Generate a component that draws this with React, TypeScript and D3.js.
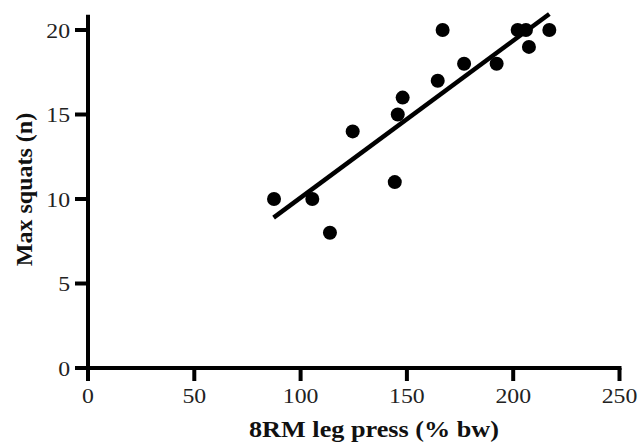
import React, { useEffect, useRef } from "react";
import * as d3 from "d3";

// 8RM leg press (% bw) vs max squats (n)
const legPress = [87.5, 105.5, 113.8, 124.5, 144.3, 145.7, 148, 164.5, 166.8, 176.9, 192.2, 202.1, 206, 207.4, 217];
const maxSquats = [10, 10, 8, 14, 11, 15, 16, 17, 20, 18, 18, 20, 20, 19, 20];

// regression line
const fitX = [87.3, 217];
const fitY = [8.9, 20.95];

const xTicks = [0, 50, 100, 150, 200, 250];
const yTicks = [0, 5, 10, 15, 20];

const W = 640;
const H = 443;
const FONT = "'Liberation Serif', 'Times New Roman', serif";

export default function App() {
  const svgRef = useRef<SVGSVGElement>(null);

  useEffect(() => {
    const svg = d3.select(svgRef.current);
    svg.selectAll("*").remove();

    const x = d3.scaleLinear().domain([0, 250]).range([88, 619.5]);
    const y = d3.scaleLinear().domain([0, 20]).range([368, 30]);
    const yTop = 20.9;
    const stroke = 4;

    // axes lines
    svg.append("line")
      .attr("x1", x(0)).attr("x2", x(0))
      .attr("y1", y(yTop)).attr("y2", y(0) + stroke / 2)
      .attr("stroke", "#000").attr("stroke-width", stroke);
    svg.append("line")
      .attr("x1", x(0) - stroke / 2).attr("x2", x(250) + stroke / 2)
      .attr("y1", y(0)).attr("y2", y(0))
      .attr("stroke", "#000").attr("stroke-width", stroke);

    // x ticks
    const xt = svg.append("g");
    xt.selectAll("line").data(xTicks).join("line")
      .attr("x1", (d) => x(d)).attr("x2", (d) => x(d))
      .attr("y1", y(0)).attr("y2", y(0) + 13)
      .attr("stroke", "#000").attr("stroke-width", stroke);
    xt.selectAll("g").data(xTicks).join("g")
      .attr("transform", (d) => `translate(${x(d)},403) scale(1.08,1)`)
      .append("text")
      .attr("text-anchor", "middle")
      .style("font-family", FONT)
      .style("font-size", "22px")
      .attr("fill", "#222")
      .text((d) => d);

    // y ticks
    const yt = svg.append("g");
    yt.selectAll("line").data(yTicks).join("line")
      .attr("x1", x(0) - 13).attr("x2", x(0))
      .attr("y1", (d) => y(d)).attr("y2", (d) => y(d))
      .attr("stroke", "#000").attr("stroke-width", stroke);
    yt.selectAll("g").data(yTicks).join("g")
      .attr("transform", (d) => `translate(70,${y(d) + 7.5}) scale(1.08,1)`)
      .append("text")
      .attr("text-anchor", "end")
      .style("font-family", FONT)
      .style("font-size", "22px")
      .attr("fill", "#222")
      .text((d) => d);

    // axis titles
    svg.append("g")
      .attr("transform", `translate(374,437) scale(1.14,1)`)
      .append("text")
      .attr("text-anchor", "middle")
      .style("font-family", FONT)
      .style("font-size", "23px")
      .style("font-weight", "bold")
      .attr("fill", "#111")
      .text("8RM leg press (% bw)");
    svg.append("g")
      .attr("transform", `translate(32,189.5) rotate(-90)`)
      .append("text")
      .attr("text-anchor", "middle")
      .style("font-family", FONT)
      .style("font-size", "24px")
      .style("font-weight", "bold")
      .attr("fill", "#111")
      .text("Max squats (n)");

    // fit line
    svg.append("line")
      .attr("x1", x(fitX[0])).attr("y1", y(fitY[0]))
      .attr("x2", x(fitX[1])).attr("y2", y(fitY[1]))
      .attr("stroke", "#000").attr("stroke-width", 4.5);

    // points
    svg.append("g").selectAll("circle")
      .data(legPress.map((v, i) => [v, maxSquats[i]]))
      .join("circle")
      .attr("cx", (d) => x(d[0]))
      .attr("cy", (d) => y(d[1]))
      .attr("r", 7)
      .attr("fill", "#000");
  }, []);

  return (
    <svg
      ref={svgRef}
      width={W}
      height={H}
      style={{ position: "absolute", left: 0, top: 0, background: "#fff" }}
    />
  );
}
